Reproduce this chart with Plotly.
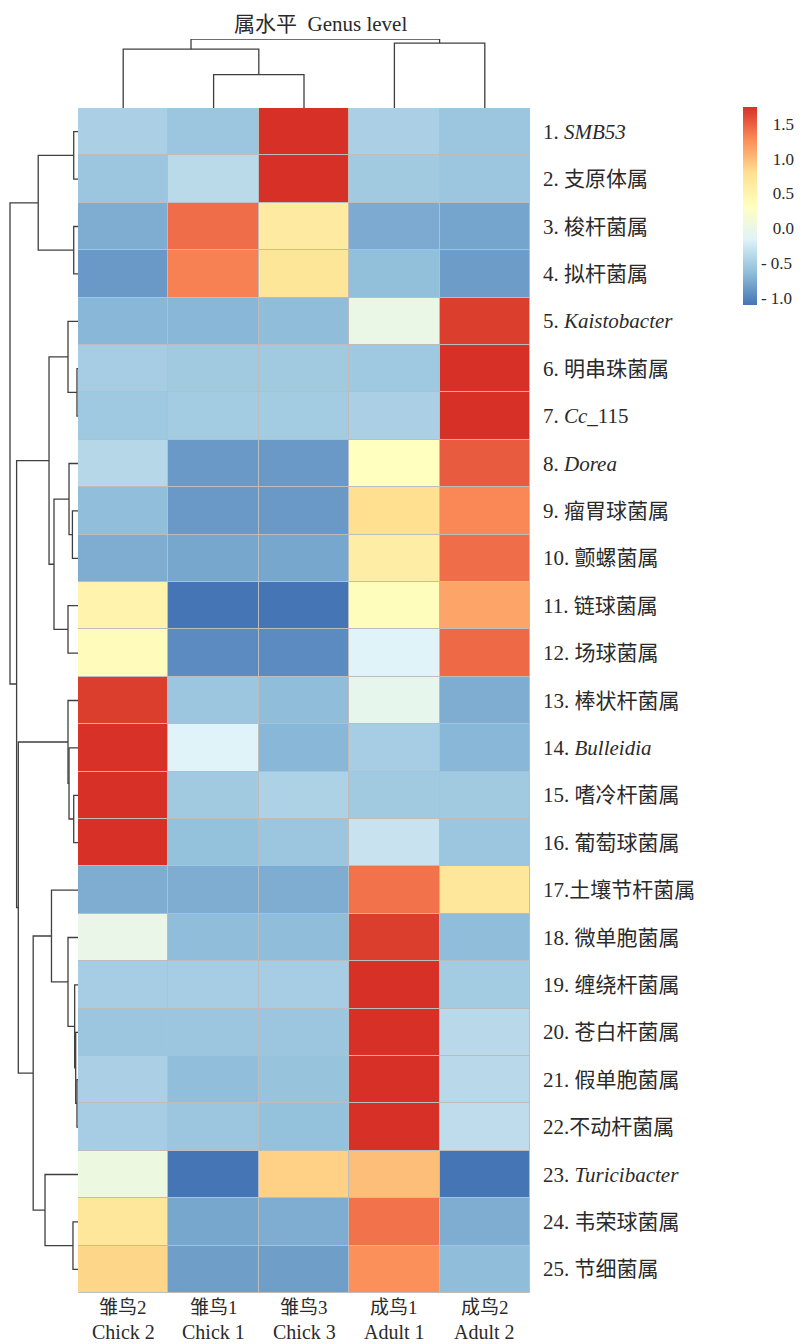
import plotly.graph_objects as go

# Samples, in clustered column order
sample_cn = ["雏鸟2", "雏鸟1", "雏鸟3", "成鸟1", "成鸟2"]
sample_en = ["Chick 2", "Chick 1", "Chick 3", "Adult 1", "Adult 2"]

# Genera, in clustered row order
genera = [
    "1. <i>SMB53</i>", "2. 支原体属", "3. 梭杆菌属", "4. 拟杆菌属",
    "5. <i>Kaistobacter</i>", "6. 明串珠菌属", "7. <i>Cc</i>_115", "8. <i>Dorea</i>",
    "9. 瘤胃球菌属", "10. 颤螺菌属", "11. 链球菌属", "12. 场球菌属",
    "13. 棒状杆菌属", "14. <i>Bulleidia</i>", "15. 嗜冷杆菌属", "16. 葡萄球菌属",
    "17.土壤节杆菌属", "18. 微单胞菌属", "19. 缠绕杆菌属", "20. 苍白杆菌属",
    "21. 假单胞菌属", "22.不动杆菌属", "23. <i>Turicibacter</i>", "24. 韦荣球菌属",
    "25. 节细菌属",
]

# Row-scaled relative abundance (z-score), one list per genus
zscore = [
    [-0.47, -0.56, 1.74, -0.47, -0.56],
    [-0.56, -0.38, 1.74, -0.53, -0.56],
    [-0.74, 1.43, 0.62, -0.76, -0.80],
    [-0.87, 1.33, 0.70, -0.62, -0.85],
    [-0.68, -0.68, -0.64, 0.00, 1.67],
    [-0.50, -0.53, -0.53, -0.54, 1.74],
    [-0.54, -0.52, -0.52, -0.47, 1.74],
    [-0.41, -0.87, -0.87, 0.32, 1.52],
    [-0.63, -0.87, -0.87, 0.79, 1.29],
    [-0.74, -0.78, -0.78, 0.58, 1.43],
    [0.50, -1.10, -1.10, 0.35, 1.13],
    [0.36, -0.96, -0.96, -0.15, 1.45],
    [1.67, -0.56, -0.64, -0.05, -0.74],
    [1.73, -0.15, -0.68, -0.50, -0.68],
    [1.74, -0.53, -0.46, -0.53, -0.53],
    [1.74, -0.61, -0.56, -0.30, -0.56],
    [-0.74, -0.74, -0.74, 1.40, 0.68],
    [-0.02, -0.64, -0.64, 1.67, -0.64],
    [-0.50, -0.50, -0.50, 1.74, -0.52],
    [-0.56, -0.56, -0.56, 1.74, -0.39],
    [-0.47, -0.63, -0.59, 1.74, -0.39],
    [-0.50, -0.56, -0.61, 1.74, -0.36],
    [0.05, -1.10, 0.88, 0.99, -1.10],
    [0.68, -0.78, -0.74, 1.40, -0.74],
    [0.85, -0.84, -0.84, 1.25, -0.64],
]

# Hierarchical clustering merges: (child a, child b, relative height);
# leaves are 0..n-1, merge k creates node n+k
row_merges = [
    (5, 6, 0.015), (20, 21, 0.015), (19, 26, 0.034), (18, 27, 0.049),
    (0, 1, 0.063), (2, 3, 0.063), (14, 15, 0.063), (23, 24, 0.074),
    (8, 9, 0.082), (7, 33, 0.132), (13, 31, 0.132), (4, 25, 0.147),
    (10, 11, 0.147), (12, 35, 0.147), (17, 28, 0.147), (34, 37, 0.353),
    (16, 39, 0.390), (36, 40, 0.426), (22, 32, 0.485), (29, 30, 0.585),
    (41, 43, 0.659), (38, 45, 0.878), (42, 46, 0.903), (44, 47, 1.000),
]
col_merges = [(1, 2, 0.485), (0, 5, 0.853), (3, 4, 0.941), (6, 7, 1.000)]

cbar_vals = [-1.0, -0.5, 0.0, 0.5, 1.0, 1.5]
cbar_text = ["- 1.0", "- 0.5", "\u2007\u20090.0", "\u2007\u20090.5", "\u2007\u20091.0", "\u2007\u20091.5"]

W, H = 803, 1344
SERIF = "Liberation Serif, Times New Roman, Noto Sans CJK SC, serif"
INK = "#2a2a2a"
LINE = "#3f3f3f"

# pixel frame of the heat map
hx0, hx1, hy0, hy1 = 78, 530, 108, 1293


def px_x(v):
    return v / W


def px_y(v):
    return 1 - v / H


def dendro_segments(merges, n_leaves):
    pos = {i: float(i) for i in range(n_leaves)}
    hgt = {i: 0.0 for i in range(n_leaves)}
    seg_p, seg_h = [], []
    for k, (a, b, h) in enumerate(merges):
        seg_p += [pos[a], pos[a], pos[b], pos[b], None]
        seg_h += [hgt[a], h, h, hgt[b], None]
        node = n_leaves + k
        pos[node] = (pos[a] + pos[b]) / 2
        hgt[node] = h
    return seg_p, seg_h


colorscale = [
    [0 / 6, "#4575B4"], [1 / 6, "#91BFDB"], [2 / 6, "#E0F3F8"], [3 / 6, "#FFFFBF"],
    [4 / 6, "#FEE090"], [5 / 6, "#FC8D59"], [6 / 6, "#D73027"],
]

fig = go.Figure()

fig.add_trace(go.Heatmap(
    z=zscore,
    x=list(range(len(sample_en))),
    y=list(range(len(genera))),
    colorscale=colorscale,
    xgap=1, ygap=1,
    hoverinfo="skip",
    colorbar=dict(
        x=px_x(743), xanchor="left", xpad=0,
        y=px_y(107), yanchor="top", ypad=0,
        len=198, lenmode="pixels", thickness=14,
        outlinewidth=0, ticks="",
        tickvals=cbar_vals, ticktext=cbar_text,
        tickfont=dict(family=SERIF, size=17, color=INK),
    ),
))

# row dendrogram on the left
rp, rh = dendro_segments(row_merges, len(genera))
fig.add_trace(go.Scatter(
    x=rh, y=rp, xaxis="x2", yaxis="y", mode="lines",
    line=dict(color=LINE, width=1.3), hoverinfo="skip", showlegend=False,
))

# column dendrogram on top
cp, ch = dendro_segments(col_merges, len(sample_en))
fig.add_trace(go.Scatter(
    x=cp, y=ch, xaxis="x", yaxis="y3", mode="lines",
    line=dict(color=LINE, width=1.3), hoverinfo="skip", showlegend=False,
))

hidden = dict(showgrid=False, zeroline=False, showticklabels=False, ticks="", showline=False)

fig.update_layout(
    width=W, height=H,
    margin=dict(l=0, r=0, t=0, b=0, autoexpand=False),
    paper_bgcolor="white", plot_bgcolor="white",
    showlegend=False,
    xaxis=dict(domain=[px_x(hx0), px_x(hx1)], range=[-0.5, len(sample_en) - 0.5], **hidden),
    yaxis=dict(domain=[px_y(hy1), px_y(hy0)], range=[len(genera) - 0.5, -0.5], **hidden),
    xaxis2=dict(domain=[0, px_x(hx0)], range=[hx0 / 68.0, 0], anchor="y", **hidden),
    yaxis3=dict(domain=[px_y(hy0), px_y(39)], range=[0, 1], anchor="x", **hidden),
)

# cell borders show through the heat map gaps
fig.add_shape(
    type="rect", xref="x", yref="y", layer="below",
    x0=-0.5, x1=len(sample_en) - 0.5, y0=-0.5, y1=len(genera) - 0.5,
    fillcolor="#BDBDBD", line=dict(color="#BDBDBD", width=1),
)

annotations = [dict(
    text="属水平\u00a0\u00a0Genus level", xref="paper", yref="paper",
    x=px_x(320), y=px_y(24), xanchor="center", yanchor="middle",
    showarrow=False, font=dict(family=SERIF, size=21, color=INK),
)]
for i, name in enumerate(genera):
    annotations.append(dict(
        text=name, xref="paper", yref="y", x=px_x(541), y=i,
        xanchor="left", yanchor="middle", showarrow=False,
        font=dict(family=SERIF, size=21, color=INK),
    ))
for j, (cn, en) in enumerate(zip(sample_cn, sample_en)):
    annotations.append(dict(
        text=cn, xref="x", yref="paper", x=j, y=px_y(1296),
        xanchor="center", yanchor="top", showarrow=False, borderpad=0,
        font=dict(family=SERIF, size=19, color=INK),
    ))
    annotations.append(dict(
        text=en, xref="x", yref="paper", x=j, y=px_y(1344),
        xanchor="center", yanchor="bottom", showarrow=False, borderpad=0,
        font=dict(family=SERIF, size=20, color=INK),
    ))
fig.update_layout(annotations=annotations)

fig.write_html("out.html")
